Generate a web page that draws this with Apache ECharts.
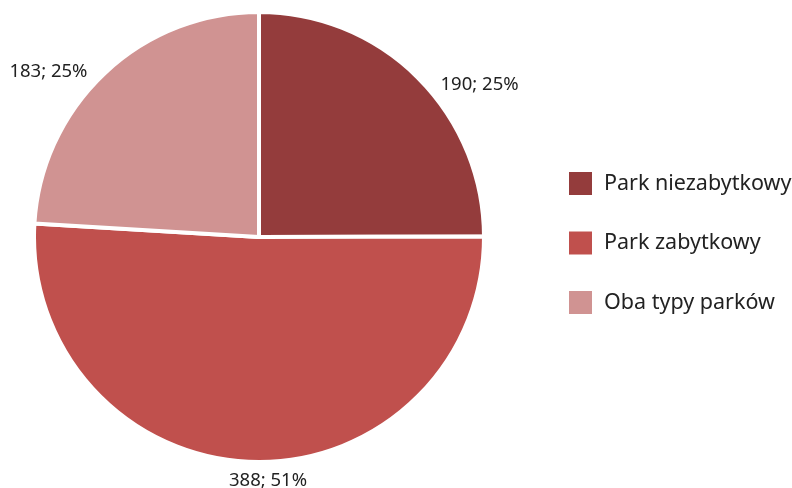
<!DOCTYPE html>
<html>
<head>
<meta charset="utf-8">
<script src="https://cdn.jsdelivr.net/npm/echarts@6/dist/echarts.min.js"></script>
<style>html,body{margin:0;padding:0;background:#fff}#c{width:792px;height:488px}</style>
</head>
<body>
<div id="c"></div>
<script>
const categories = ['Park niezabytkowy', 'Park zabytkowy', 'Oba typy parków'];
const values = [190, 388, 183];
const percents = ['25%', '51%', '25%'];
const colors = ['#943c3c', '#c0504d', '#d09392'];

const labelTweaks = [
  { offset: [7, 18] },
  { offset: [60, 4] },
  { offset: [-2, 9] }
];

const chart = echarts.init(document.getElementById('c'), null, { renderer: 'canvas' });
chart.setOption({
  animation: false,
  color: colors,
  legend: {
    orient: 'vertical',
    left: 567,
    top: 170,
    padding: 0,
    itemWidth: 25,
    itemHeight: 25,
    itemGap: 32.5,
    icon: 'rect',
    textStyle: { fontFamily: 'Noto Sans', fontSize: 21.5, color: '#222', padding: [0, 0, 0, 6] },
    data: categories
  },
  series: [{
    type: 'pie',
    center: [259, 237],
    radius: 225,
    startAngle: 90,
    clockwise: true,
    avoidLabelOverlap: false,
    itemStyle: { borderColor: '#fff', borderWidth: 4 },
    labelLine: { show: false, length: 15, length2: 0 },
    label: {
      show: true,
      position: 'outside',
      fontFamily: 'Noto Sans',
      fontSize: 18.5,
      color: '#222'
    },
    data: categories.map((name, i) => ({
      name,
      value: values[i],
      label: Object.assign({ formatter: values[i] + '; ' + percents[i] }, labelTweaks[i])
    }))
  }]
});
</script>
</body>
</html>
